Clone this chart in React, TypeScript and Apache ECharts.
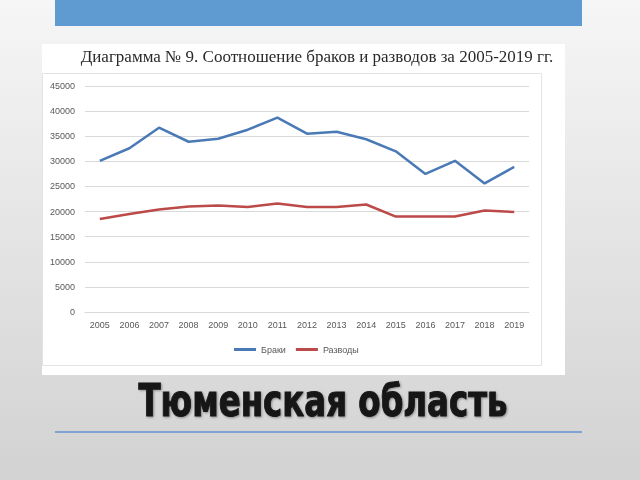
import React, { useEffect, useRef } from "react";
import * as echarts from "echarts";

const years = ["2005","2006","2007","2008","2009","2010","2011","2012","2013","2014","2015","2016","2017","2018","2019"];
const marriages = [30100, 32600, 36700, 33900, 34500, 36300, 38700, 35500, 35900, 34400, 32000, 27500, 30100, 25600, 28900];
const divorces = [18500, 19500, 20400, 21000, 21200, 20900, 21600, 20900, 20900, 21400, 19000, 19000, 19000, 20200, 19900];
const seriesNames = ["Браки", "Разводы"];
const chartTitle = "Диаграмма № 9. Соотношение браков и разводов за 2005-2019 гг.";
const slideTitle = "Тюменская область";

export default function App() {
  const ref = useRef<HTMLDivElement>(null);
  useEffect(() => {
    if (!ref.current) return;
    const chart = echarts.init(ref.current, null, { renderer: "svg" });
    chart.setOption({
      animation: false,
      graphic: [
        {
          type: "rect", z: -100, silent: true,
          shape: { x: 0, y: 0, width: 640, height: 480 },
          style: {
            fill: new echarts.graphic.LinearGradient(0, 0, 0, 1, [
              { offset: 0, color: "#f6f6f6" },
              { offset: 0.5, color: "#e4e4e4" },
              { offset: 1, color: "#d2d2d2" },
            ]),
          },
        },
        {
          type: "rect", z: -99, silent: true,
          shape: { x: 55, y: 0, width: 527, height: 26 },
          style: { fill: "#5f9bd1" },
        },
        {
          type: "rect", z: -98, silent: true,
          shape: { x: 42, y: 44, width: 523, height: 331 },
          style: { fill: "#ffffff" },
        },
        {
          type: "rect", z: -97, silent: true,
          shape: { x: 42.5, y: 73.5, width: 499, height: 292 },
          style: { fill: "none", stroke: "#e3e3e3", lineWidth: 1 },
        },
        {
          type: "text", z: 10,
          x: 317, y: 56,
          style: {
            text: chartTitle,
            font: "17px 'Liberation Serif', serif",
            fill: "#2a2a2a",
            align: "center",
            verticalAlign: "middle",
          },
        },
        {
          type: "text", z: 10,
          x: 323, y: 401, scaleX: 0.82,
          style: {
            text: slideTitle,
            font: "bold 44px 'DejaVu Sans Condensed', 'DejaVu Sans', sans-serif",
            fill: "#161616",
            stroke: "#161616",
            lineWidth: 1,
            align: "center",
            verticalAlign: "middle",
            textShadowColor: "rgba(0,0,0,0.35)",
            textShadowBlur: 2,
            textShadowOffsetX: 1,
            textShadowOffsetY: 1,
          },
        },
        {
          type: "line", z: 10,
          shape: { x1: 55, y1: 432, x2: 582, y2: 432 },
          style: { stroke: "#7ea3cf", lineWidth: 2 },
        },
      ],
      grid: { left: 85, right: 111, top: 86, bottom: 168, containLabel: false },
      xAxis: {
        type: "category",
        data: years,
        boundaryGap: true,
        axisLine: { show: true, lineStyle: { color: "#d9d9d9", width: 1 } },
        axisTick: { show: false },
        axisLabel: { color: "#595959", fontSize: 9, fontFamily: "'Liberation Sans', sans-serif", margin: 8, interval: 0 },
      },
      yAxis: {
        type: "value",
        min: 0, max: 45000, interval: 5000,
        axisLine: { show: false },
        axisTick: { show: false },
        splitLine: { lineStyle: { color: "#d9d9d9", width: 1 } },
        axisLabel: {
          color: "#595959", fontSize: 9, fontFamily: "'Liberation Sans', sans-serif", margin: 10,
          formatter: (v: number) => String(v),
        },
      },
      legend: {
        data: seriesNames.map((n) => ({ name: n, icon: "rect" })),
        left: 229, top: 340,
        itemWidth: 22, itemHeight: 3, itemGap: 10,
        textStyle: { color: "#595959", fontSize: 9, fontFamily: "'Liberation Sans', sans-serif" },
      },
      series: [
        {
          name: seriesNames[0], type: "line", data: marriages,
          symbol: "none", lineStyle: { color: "#4a7ab5", width: 2.5 }, itemStyle: { color: "#4a7ab5" },
        },
        {
          name: seriesNames[1], type: "line", data: divorces,
          symbol: "none", lineStyle: { color: "#bb4a48", width: 2.5 }, itemStyle: { color: "#bb4a48" },
        },
      ],
    });
    return () => chart.dispose();
  }, []);
  return <div ref={ref} style={{ position: "fixed", left: 0, top: 0, width: 640, height: 480 }} />;
}
